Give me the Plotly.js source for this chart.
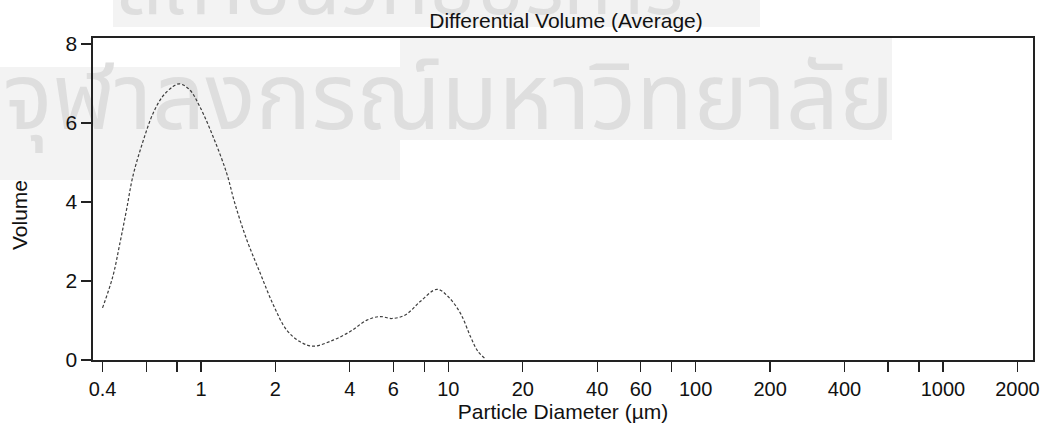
<!DOCTYPE html>
<html>
<head>
<meta charset="utf-8">
<script src="https://cdn.plot.ly/plotly-3.0.1.min.js"></script>
<style>html,body{margin:0;padding:0;background:#fff;}</style>
</head>
<body>
<div id="chart" style="width:1056px;height:428px;"></div>
<script>
// Particle diameter (µm) and differential volume (%)
const diameter = [0.40,0.44,0.47,0.50,0.53,0.58,0.64,0.70,0.77,0.82,0.90,0.99,1.12,1.27,1.37,1.53,1.73,1.96,2.22,2.52,2.85,3.44,4.01,4.69,5.30,5.91,6.70,7.70,9.0,10.0,11.2,12.3,13.2,14.2];
const volume   = [1.32,2.11,2.95,3.80,4.64,5.49,6.24,6.67,6.92,6.99,6.84,6.41,5.65,4.73,3.97,3.05,2.22,1.40,0.76,0.46,0.35,0.51,0.72,1.01,1.10,1.05,1.14,1.48,1.79,1.60,1.18,0.59,0.21,0.02];

const tickValues = [0.4,0.6,0.8,1,2,4,6,8,10,20,40,60,80,100,200,400,600,800,1000,2000];
const tickLabels = ['0.4','','','1','2','4','6','','10','20','40','60','','100','200','400','','','1000','2000'];
const yTickValues = [0,2,4,6,8];
const yTickLabels = ['0','2','4','6','8'];

const titleText = 'Differential Volume (Average)';
const xTitle = 'Particle Diameter (µm)';
const yTitle = 'Volume';
const watermarkTop = 'สถาบันวิทยบริการ';
const watermarkBottom = 'จุฬาลงกรณ์มหาวิทยาลัย';

const font = 'Liberation Sans, Arial, sans-serif';
const thaiFont = 'Noto Sans Thai, Loma, Garuda, DejaVu Sans, sans-serif';

// plot area in pixels: left 93, right 1033, top 38, bottom 360
const PW = 940, PH = 322;

const trace = {
  x: diameter, y: volume, type: 'scatter', mode: 'lines',
  line: {color: '#3c3c3c', width: 1.2, dash: '3px,2px', shape: 'spline', smoothing: 1},
  hoverinfo: 'x+y'
};

const layout = {
  width: 1056, height: 428,
  margin: {l: 93, r: 23, t: 38, b: 68},
  paper_bgcolor: '#ffffff', plot_bgcolor: 'rgba(0,0,0,0)',
  showlegend: false,
  font: {family: font, size: 20, color: '#111'},
  title: {text: titleText, font: {family: font, size: 21, color: '#111'},
          x: 566/1056, xanchor: 'center', xref: 'container', y: 1 - 21/428, yanchor: 'middle', yref: 'container'},
  xaxis: {
    type: 'log', range: [Math.log10(0.366), Math.log10(2312)],
    tickmode: 'array', tickvals: tickValues, ticktext: tickLabels,
    ticks: 'outside', ticklen: 10, tickwidth: 1.2, tickcolor: '#222',
    showline: true, linecolor: '#222', linewidth: 1.6, mirror: true,
    showgrid: false, zeroline: false,
    tickfont: {family: font, size: 20, color: '#111'},
    title: {text: xTitle, font: {family: font, size: 21, color: '#111'}, standoff: 4}
  },
  yaxis: {
    range: [0, 8.15], tickmode: 'array', tickvals: yTickValues, ticktext: yTickLabels,
    ticks: 'outside', ticklen: 10, tickwidth: 1.2, tickcolor: '#222',
    showline: true, linecolor: '#222', linewidth: 1.6, mirror: true,
    showgrid: false, zeroline: false,
    tickfont: {family: font, size: 21, color: '#111'}
  },
  shapes: [
    {type: 'rect', xref: 'paper', yref: 'paper', layer: 'below',
     x0: -93/PW, x1: 307/PW, y0: (360-180)/PH, y1: (360-67)/PH,
     fillcolor: '#f3f3f3', line: {width: 0}},
    {type: 'rect', xref: 'paper', yref: 'paper', layer: 'below',
     x0: 307/PW, x1: 799/PW, y0: (360-140)/PH, y1: (360-38)/PH,
     fillcolor: '#f3f3f3', line: {width: 0}},
    {type: 'rect', xref: 'paper', yref: 'paper', layer: 'below',
     x0: 20/PW, x1: 667/PW, y0: (360-27)/PH, y1: (360+0)/PH,
     fillcolor: '#f3f3f3', line: {width: 0}}
  ],
  annotations: [
    {text: watermarkBottom, xref: 'paper', yref: 'paper', x: -92/PW, y: (360-100)/PH,
     xanchor: 'left', yanchor: 'middle', showarrow: false,
     font: {family: thaiFont, size: 93, color: '#dedede'}},
    {text: watermarkTop, xref: 'paper', yref: 'paper', x: 22/PW, y: (360+10)/PH,
     xanchor: 'left', yanchor: 'middle', showarrow: false,
     font: {family: thaiFont, size: 80, color: '#dedede'}},
    {text: yTitle, xref: 'paper', yref: 'paper', x: (19-93)/PW, y: (360-215)/PH,
     xanchor: 'center', yanchor: 'middle', textangle: -90, showarrow: false,
     font: {family: font, size: 21, color: '#111'}}
  ]
};

const gd = document.getElementById('chart');
Plotly.newPlot(gd, [trace], layout, {displayModeBar: false, staticPlot: true}).then(function () {
  // send the scanned watermark behind the axes and the curve
  const below = gd.querySelector('.layer-below .shapelayer') || gd.querySelector('.layer-below');
  gd.querySelectorAll('.infolayer .annotation').forEach(function (a) {
    const idx = a.getAttribute('data-index');
    if (below && (idx === '0' || idx === '1')) below.appendChild(a);
  });
});
</script>
</body>
</html>
